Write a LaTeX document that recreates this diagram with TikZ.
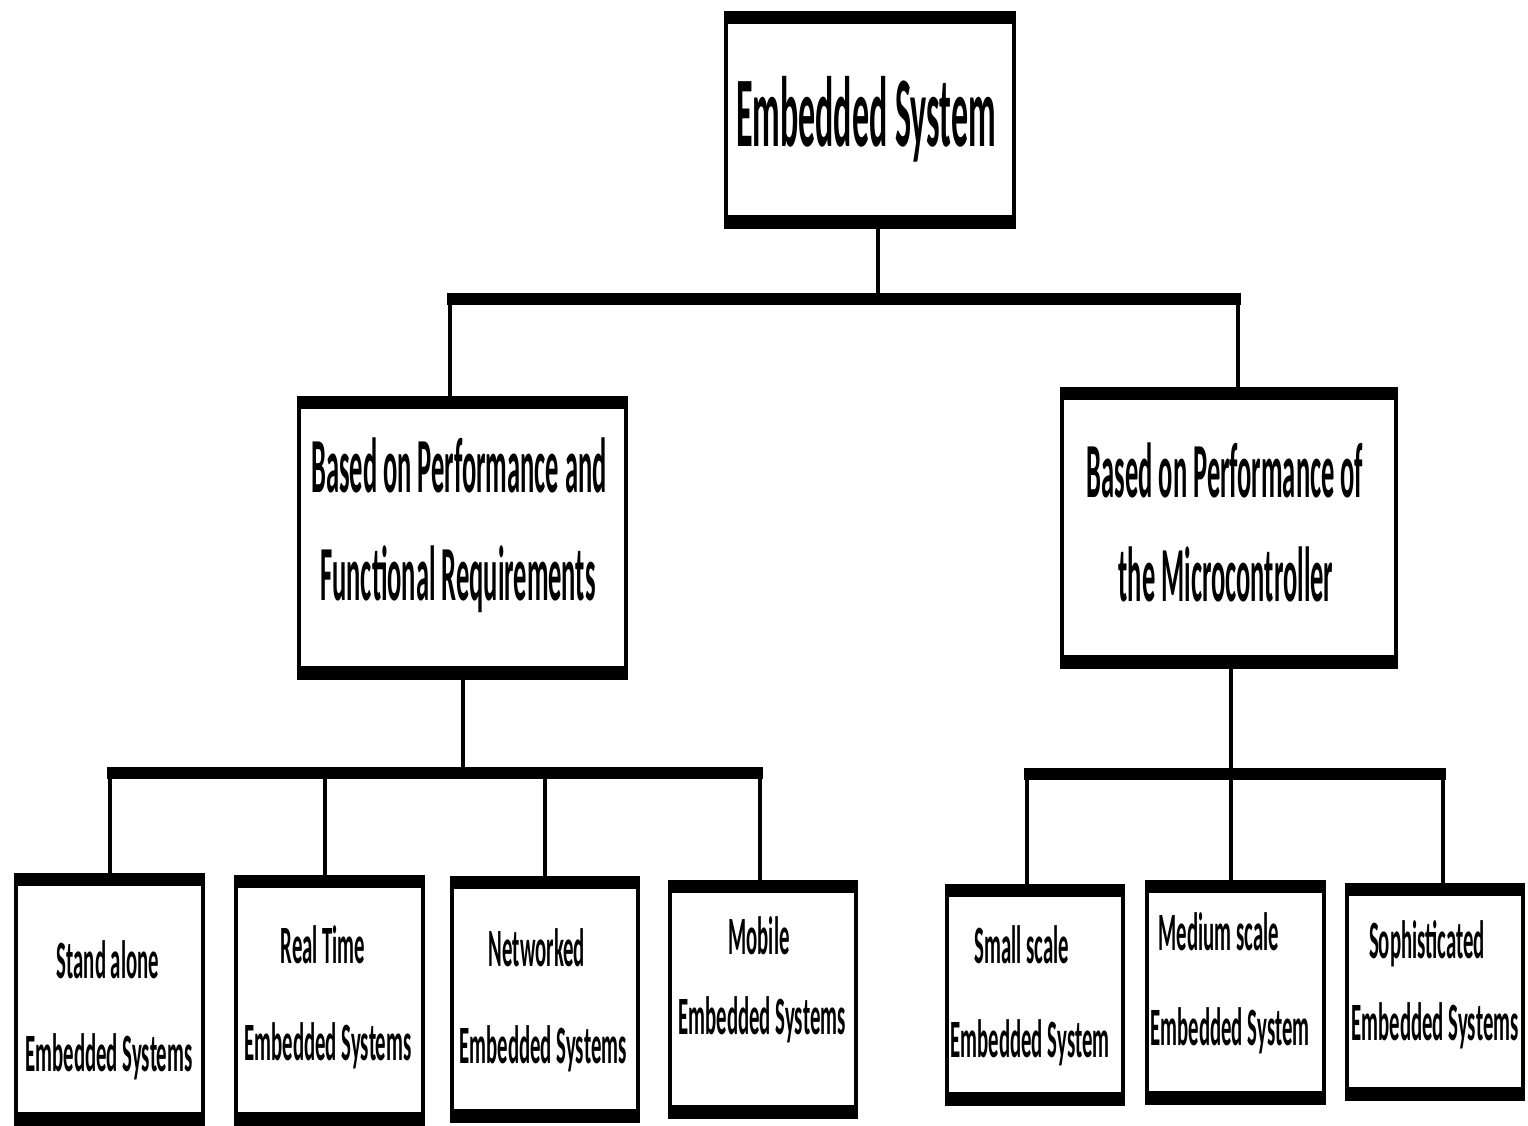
\documentclass[tikz,border=0pt]{standalone}
\usepackage{fontspec}
\newfontfamily\cfA{Carlito}[FakeStretch=0.34]
\newfontfamily\cfB{Carlito}[FakeStretch=0.385]
\usetikzlibrary{fit}
\tikzset{
  conn/.style={line width=4pt},
  bus/.style={line width=12pt},
  lbl/.style={anchor=base, inner sep=0pt},
  ftop/.style={font=\cfA\bfseries\fontsize{100}{120}\selectfont},
  fmid/.style={font=\cfA\bfseries\fontsize{78}{90}\selectfont},
  fbot/.style={font=\cfB\bfseries\fontsize{54}{64}\selectfont},
  frame/.style={inner sep=0pt, draw=none},
}
\newcommand\ebox[5]{%
  \coordinate (#1-a) at (#2,#3);
  \coordinate (#1-b) at (#4,#5);
  \node[frame, fit=(#1-a)(#1-b)] (#1) {};
  \fill (#1.north west) rectangle ([yshift=-13pt]#1.north east);
  \fill ([yshift=14pt]#1.south west) rectangle (#1.south east);
  \fill (#1.north west) rectangle ([xshift=4pt]#1.south west);
  \fill ([xshift=-4pt]#1.north east) rectangle (#1.south east);
}
\begin{document}
\begin{tikzpicture}[x=1pt,y=-1pt]
\fill[white] (0,0) rectangle (1528,1126);
\useasboundingbox (0,0) rectangle (1528,1126);

% boxes
\ebox{top}{724}{11}{1016}{229}
\ebox{perf}{297}{396}{628}{680}
\ebox{micro}{1060}{387}{1398}{669}
\ebox{sa}{14}{873}{205}{1126}
\ebox{rt}{234}{875}{425}{1126}
\ebox{nw}{450}{876}{640}{1123}
\ebox{mo}{668}{880}{858}{1119}
\ebox{ss}{945}{884}{1125}{1106}
\ebox{ms}{1145}{880}{1326}{1105}
\ebox{so}{1345}{883}{1525}{1101}

% texts
\node[lbl, ftop] (t-top) at (866,147) {Embedded System};
\node[lbl, fmid] (t-perf1) at (459,492) {Based on Performance and};
\node[lbl, fmid] (t-perf2) at (458,600) {Functional Requirements};
\node[lbl, fmid] (t-micro1) at (1225,497) {Based on Performance of};
\node[lbl, fmid] (t-micro2) at (1226,601) {the Microcontroller};
\node[lbl, fbot] (t-sa1) at (108,978) {Stand alone};
\node[lbl, fbot] (t-sa2) at (109,1071) {Embedded Systems};
\node[lbl, fbot] (t-rt1) at (323,963) {Real Time};
\node[lbl, fbot] (t-rt2) at (328,1060) {Embedded Systems};
\node[lbl, fbot] (t-nw1) at (537,966) {Networked};
\node[lbl, fbot] (t-nw2) at (543,1063) {Embedded Systems};
\node[lbl, fbot] (t-mo1) at (759,954) {Mobile};
\node[lbl, fbot] (t-mo2) at (762,1034) {Embedded Systems};
\node[lbl, fbot] (t-ss1) at (1022,963) {Small scale};
\node[lbl, fbot] (t-ss2) at (1030,1057) {Embedded System};
\node[lbl, fbot] (t-ms1) at (1219,950) {Medium scale};
\node[lbl, fbot] (t-ms2) at (1230,1045) {Embedded System};
\node[lbl, fbot] (t-so1) at (1427,958) {Sophisticated};
\node[lbl, fbot] (t-so2) at (1435,1040) {Embedded Systems};

% bus coordinates
\coordinate (b0) at (878,299);
\coordinate (b0l) at (450,299);
\coordinate (b0r) at (1238,299);
\coordinate (b1) at (463,773);
\coordinate (b1a) at (110,773);
\coordinate (b1b) at (325,773);
\coordinate (b1c) at (545,773);
\coordinate (b1d) at (760,773);
\coordinate (b2) at (1231,774);
\coordinate (b2a) at (1027,774);
\coordinate (b2b) at (1231,774);
\coordinate (b2c) at (1443,774);

% top level
\draw[conn] (b0 |- top.south) -- (b0);
\draw[bus] ([xshift=-3pt]b0l) -- ([xshift=3pt]b0r);
\draw[conn] (b0l) -- (b0l |- perf.north);
\draw[conn] (b0r) -- (b0r |- micro.north);

% left group
\draw[conn] (b1 |- perf.south) -- (b1);
\draw[bus] ([xshift=-3pt]b1a) -- ([xshift=3pt]b1d);
\draw[conn] (b1a) -- (b1a |- sa.north);
\draw[conn] (b1b) -- (b1b |- rt.north);
\draw[conn] (b1c) -- (b1c |- nw.north);
\draw[conn] (b1d) -- (b1d |- mo.north);

% right group
\draw[conn] (b2 |- micro.south) -- (b2);
\draw[bus] ([xshift=-3pt]b2a) -- ([xshift=3pt]b2c);
\draw[conn] (b2a) -- (b2a |- ss.north);
\draw[conn] (b2b) -- (b2b |- ms.north);
\draw[conn] (b2c) -- (b2c |- so.north);
\end{tikzpicture}
\end{document}
